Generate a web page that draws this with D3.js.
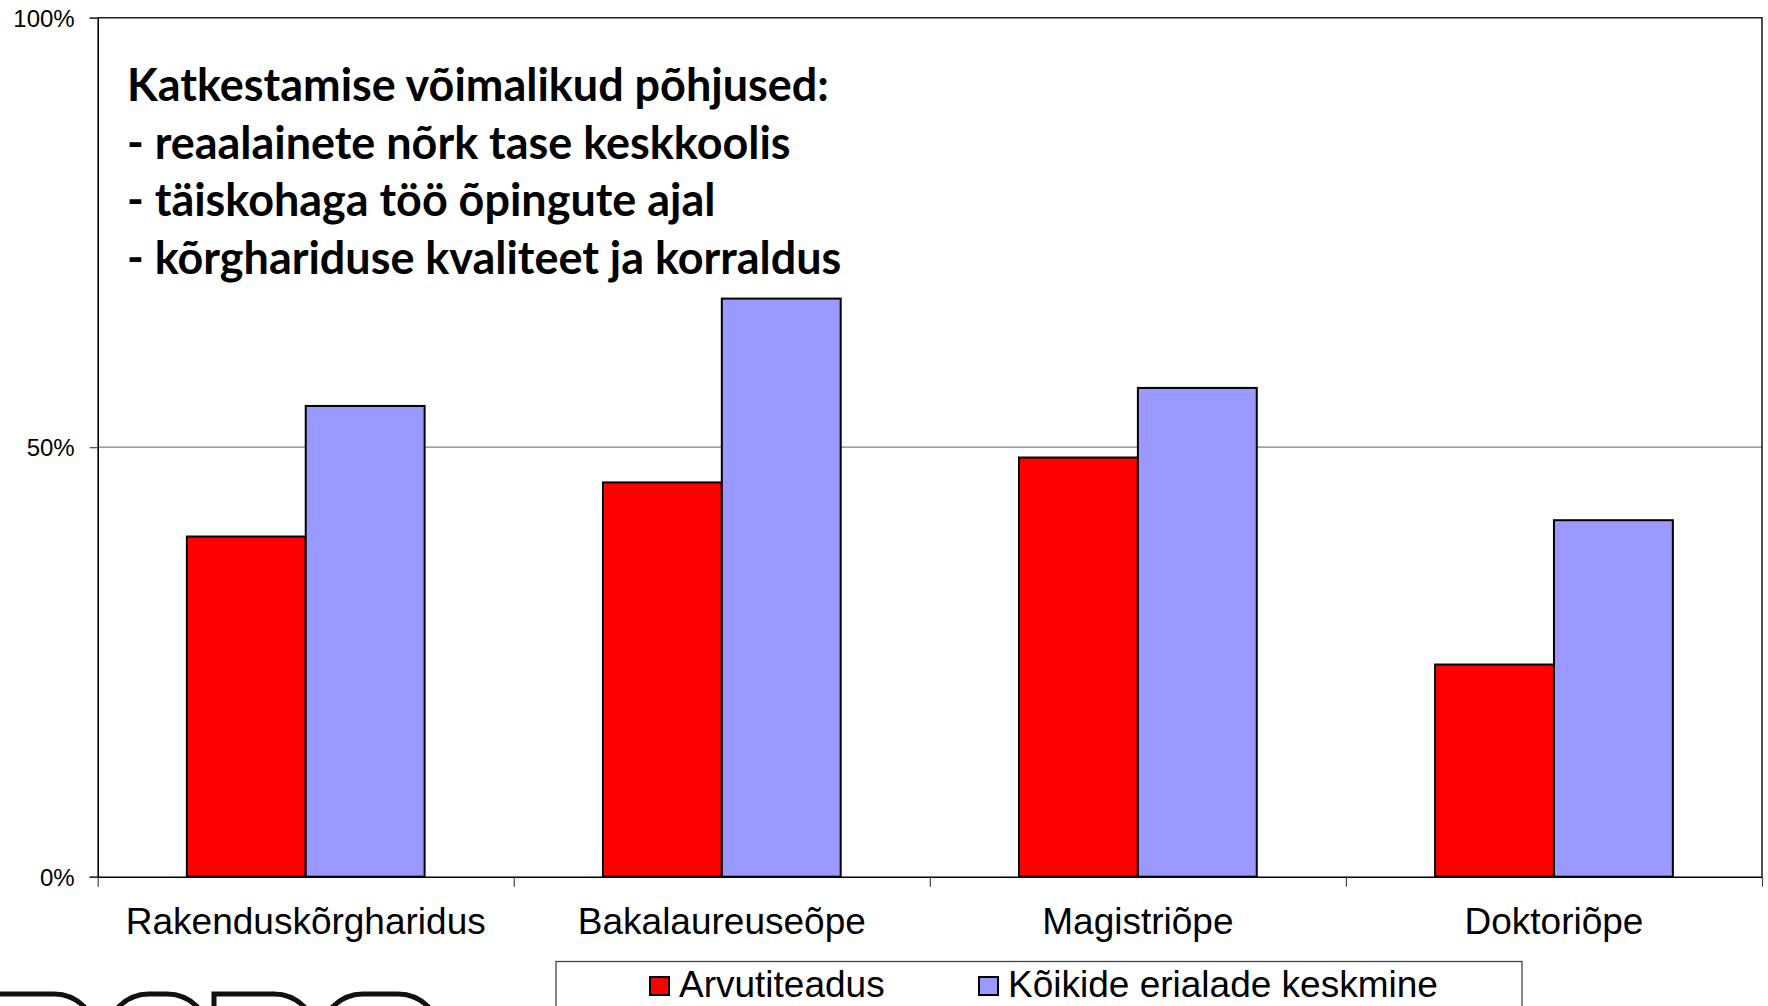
<!DOCTYPE html>
<html lang="et">
<head>
<meta charset="utf-8">
<title>Katkestamine</title>
<script src="https://cdn.jsdelivr.net/npm/d3@7/dist/d3.min.js"></script>
<style>
  body { margin: 0; background: #fff; }
  svg { display: block; }
  .axis text { font-family: "Liberation Sans", Arial, sans-serif; fill: #000; }
</style>
</head>
<body>
<script>
// data
var categories = ["Rakenduskõrgharidus", "Bakalaureuseõpe", "Magistriõpe", "Doktoriõpe"];
var arvutiteadus = [0.396, 0.459, 0.488, 0.247];
var koikide = [0.548, 0.673, 0.569, 0.415];
var seriesNames = ["Arvutiteadus", "Kõikide erialade keskmine"];
var seriesColors = ["#ff0000", "#9999ff"];
var yTicks = [0, 0.5, 1];
var titleLines = [
  "Katkestamise võimalikud põhjused:",
  "- reaalainete nõrk tase keskkoolis",
  "- täiskohaga töö õpingute ajal",
  "- kõrghariduse kvaliteet ja korraldus"
];

var W = 1768, H = 1006;
// plot box (note: "top" is reserved on window, so use pl/pr/pt/pb)
var pl = 97.7, pr = 1762, pt = 17.7, pb = 876.7;

var svg = d3.select("body").append("svg").attr("width", W).attr("height", H);

var x = d3.scaleBand().domain(categories).range([pl, pr]);
var xInner = d3.scaleBand().domain([0, 1]).range([0, x.bandwidth()]).paddingOuter(0.75);
var y = d3.scaleLinear().domain([0, 1]).range([pb, pt]);

// 50% gridline
svg.append("g").selectAll("line").data(yTicks.filter(function(d){ return d > 0 && d < 1; }))
  .enter().append("line")
  .attr("x1", pl).attr("x2", pr)
  .attr("y1", function(d){ return y(d); }).attr("y2", function(d){ return y(d); })
  .attr("stroke", "#808080").attr("stroke-width", 1.2);

// plot border (top + right)
svg.append("path")
  .attr("d", "M" + pl + "," + y(1) + "H" + pr + "V" + pb)
  .attr("fill", "none").attr("stroke", "#222").attr("stroke-width", 1.6);

// bars
var rows = categories.map(function(c, i){ return [arvutiteadus[i], koikide[i]]; });
var groups = svg.append("g").selectAll("g").data(rows).enter().append("g")
  .attr("transform", function(d, i){ return "translate(" + x(categories[i]) + ",0)"; });
groups.selectAll("rect").data(function(d){ return d; }).enter().append("rect")
  .attr("x", function(d, j){ return xInner(j); })
  .attr("width", xInner.bandwidth())
  .attr("y", function(d){ return y(d); })
  .attr("height", function(d){ return y(0) - y(d); })
  .attr("fill", function(d, j){ return seriesColors[j]; })
  .attr("stroke", "#000").attr("stroke-width", 2);

// y axis
svg.append("g").attr("class", "axis")
  .attr("transform", "translate(" + pl + ",0)")
  .call(d3.axisLeft(y).tickValues(yTicks).tickFormat(d3.format(".0%")).tickSize(8).tickPadding(15))
  .call(function(g){
    g.selectAll("text").attr("font-size", 24).attr("dy", "0.35em");
    g.select(".domain").attr("stroke", "#000").attr("stroke-width", 1.6);
    g.selectAll(".tick line").attr("stroke", "#444").attr("stroke-width", 1.2);
  });

// x axis: boundary ticks
var xb = d3.scaleLinear().domain([0, categories.length]).range([pl, pr]);
svg.append("g").attr("class", "axis")
  .attr("transform", "translate(0," + pb + ")")
  .call(d3.axisBottom(xb).tickValues(d3.range(categories.length + 1)).tickFormat("").tickSize(10).tickSizeOuter(0))
  .call(function(g){
    g.select(".domain").attr("stroke", "#000").attr("stroke-width", 1.6);
    g.selectAll(".tick line").attr("stroke", "#444").attr("stroke-width", 1.2);
  });

// x axis: category labels
svg.append("g").attr("class", "axis")
  .attr("transform", "translate(0," + pb + ")")
  .call(d3.axisBottom(x).tickSize(0).tickPadding(0))
  .call(function(g){
    g.select(".domain").remove();
    g.selectAll("text").attr("font-size", 37).attr("dy", null).attr("y", 57);
  });

// title text block
var title = svg.append("g").attr("font-family", "Lato, 'Open Sans', sans-serif").attr("font-weight", 700);
var t = title.selectAll("text").data(titleLines).enter().append("text")
  .attr("x", 127).attr("y", function(d, i){ return 100.7 + i * 57.8; })
  .attr("font-size", 40).attr("fill", "#000")
  .text(function(d){ return d; });
var w0 = t.node().getComputedTextLength();
t.attr("font-size", 40 * 702 / w0);

// legend
var lg = svg.append("g").attr("font-family", "'Liberation Sans', Arial, sans-serif").attr("font-size", 37);
lg.append("rect").attr("x", 556).attr("y", 961.5).attr("width", 966).attr("height", 80)
  .attr("fill", "#fff").attr("stroke", "#444").attr("stroke-width", 1.3);
var legX = [650, 979];
var items = lg.selectAll("g.item").data(seriesNames).enter().append("g").attr("class", "item")
  .attr("transform", function(d, i){ return "translate(" + legX[i] + ",0)"; });
items.append("rect").attr("x", 0).attr("y", 977).attr("width", 19).attr("height", 18)
  .attr("fill", function(d, i){ return seriesColors[i]; })
  .attr("stroke", "#000").attr("stroke-width", 2);
items.append("text").attr("x", 29).attr("y", 997).text(function(d){ return d; });

// partial logo at the bottom-left corner
var logo = svg.append("g").attr("fill", "none").attr("stroke", "#111").attr("stroke-width", 5);
var r = 42;
logo.append("path").attr("d", "M-10,1040V994H" + (96 - r) + "A" + r + "," + r + " 0 0 1 96,1036V1040");
logo.append("path").attr("d", "M107,1040V" + (994 + r) + "A" + r + "," + r + " 0 0 1 " + (107 + r) + ",994H" + (209 - r) + "A" + r + "," + r + " 0 0 1 209,1036V1040");
logo.append("path").attr("d", "M214,1040V994H" + (316 - r) + "A" + r + "," + r + " 0 0 1 316,1036V1040");
logo.append("path").attr("d", "M321,1040V" + (994 + r) + "A" + r + "," + r + " 0 0 1 " + (321 + r) + ",994H" + (440 - r) + "A" + r + "," + r + " 0 0 1 440,1036V1040");
</script>
</body>
</html>
